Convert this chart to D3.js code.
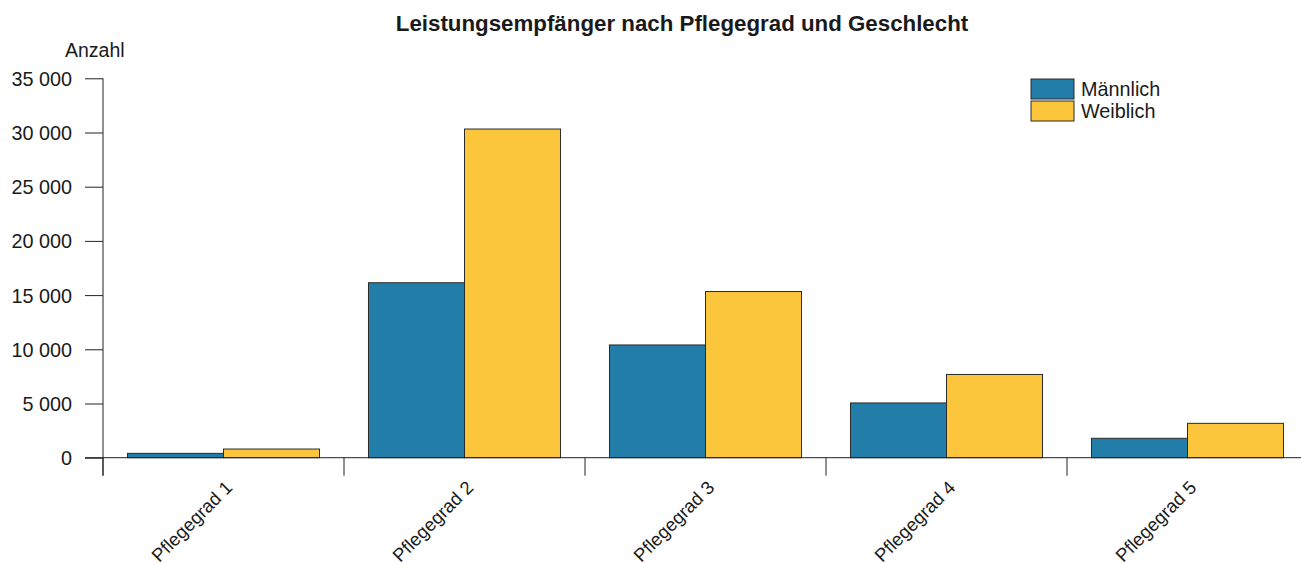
<!DOCTYPE html>
<html lang="de">
<head>
<meta charset="UTF-8">
<title>Leistungsempfänger nach Pflegegrad und Geschlecht</title>
<script src="https://d3js.org/d3.v7.min.js"></script>
<style>
  body { margin: 0; background: #fff; }
  text { font-family: "Liberation Sans", Arial, sans-serif; fill: #1a1a1a; }
</style>
</head>
<body>
<script>
// data
const categories = ["Pflegegrad 1", "Pflegegrad 2", "Pflegegrad 3", "Pflegegrad 4", "Pflegegrad 5"];
const series = ["Männlich", "Weiblich"];
const maennlich = [400, 16140, 10400, 5050, 1790];
const weiblich = [800, 30320, 15330, 7680, 3170];
const yTicks = [0, 5000, 10000, 15000, 20000, 25000, 30000, 35000];
const colors = ["#227da8", "#fbc53c"];

const W = 1301, H = 563;
const margin = {top: 78.3, left: 103, right: -7, bottom: 105.3};

const svg = d3.select("body").append("svg")
  .attr("width", W).attr("height", H);

const x = d3.scaleBand().domain(categories)
  .range([margin.left, W - margin.right]).paddingInner(0).paddingOuter(0);
const xs = d3.scaleBand().domain(series)
  .range([0, x.bandwidth()]).paddingOuter(0.255).paddingInner(0);
const y = d3.scaleLinear().domain([0, 35000]).range([H - margin.bottom, margin.top]);

const fmt = v => d3.format(",")(v).replace(/,/g, " ");

// title
svg.append("text").attr("x", 682).attr("y", 31).attr("text-anchor", "middle")
  .style("font-size", "22.3px").style("font-weight", "bold")
  .text("Leistungsempfänger nach Pflegegrad und Geschlecht");

svg.append("text").attr("x", 65).attr("y", 57).style("font-size", "19.5px").text("Anzahl");

// y axis
const yAxis = svg.append("g").attr("transform", `translate(${margin.left},0)`)
  .call(d3.axisLeft(y).tickValues(yTicks).tickSize(18).tickPadding(13).tickFormat(fmt));
yAxis.select(".domain").attr("stroke", "#222").attr("d", `M0,${y(35000)}V${y(0) + 18}`);
yAxis.selectAll(".tick line").attr("stroke", "#222");
yAxis.selectAll("text").style("font-size", "19.8px")
  .attr("font-family", null).attr("fill", "#1a1a1a").attr("dy", "0.35em");

// bars
const rows = categories.map((c, i) => ({cat: c, vals: [maennlich[i], weiblich[i]]}));
const g = svg.append("g").selectAll("g").data(rows).join("g")
  .attr("transform", d => `translate(${x(d.cat)},0)`);
g.selectAll("rect").data(d => d.vals.map((v, j) => ({s: series[j], v, j}))).join("rect")
  .attr("x", d => xs(d.s)).attr("width", xs.bandwidth())
  .attr("y", d => y(d.v)).attr("height", d => y(0) - y(d.v))
  .attr("fill", d => colors[d.j]).attr("stroke", "#2a2a2a").attr("stroke-width", 1);

// x axis baseline and ticks
svg.append("line").attr("x1", 85).attr("x2", W).attr("y1", y(0)).attr("y2", y(0))
  .attr("stroke", "#222");
svg.append("g").selectAll("line").data(categories).join("line")
  .attr("x1", d => x(d)).attr("x2", d => x(d))
  .attr("y1", y(0)).attr("y2", y(0) + 18).attr("stroke", "#222");

// x labels
svg.append("g").selectAll("text").data(categories).join("text")
  .attr("text-anchor", "end").style("font-size", "18.5px")
  .attr("transform", d => `translate(${x(d) + x.bandwidth() / 2 + 10},${y(0) + 31}) rotate(-45)`)
  .text(d => d);

// legend
const leg = svg.append("g").attr("transform", "translate(1031,79)");
series.forEach((s, i) => {
  leg.append("rect").attr("x", 0).attr("y", i * 22).attr("width", 43).attr("height", 20)
    .attr("fill", colors[i]).attr("stroke", "#2a2a2a");
  leg.append("text").attr("x", 50).attr("y", i * 22 + 16.5).style("font-size", "19.8px").text(s);
});
</script>
</body>
</html>
